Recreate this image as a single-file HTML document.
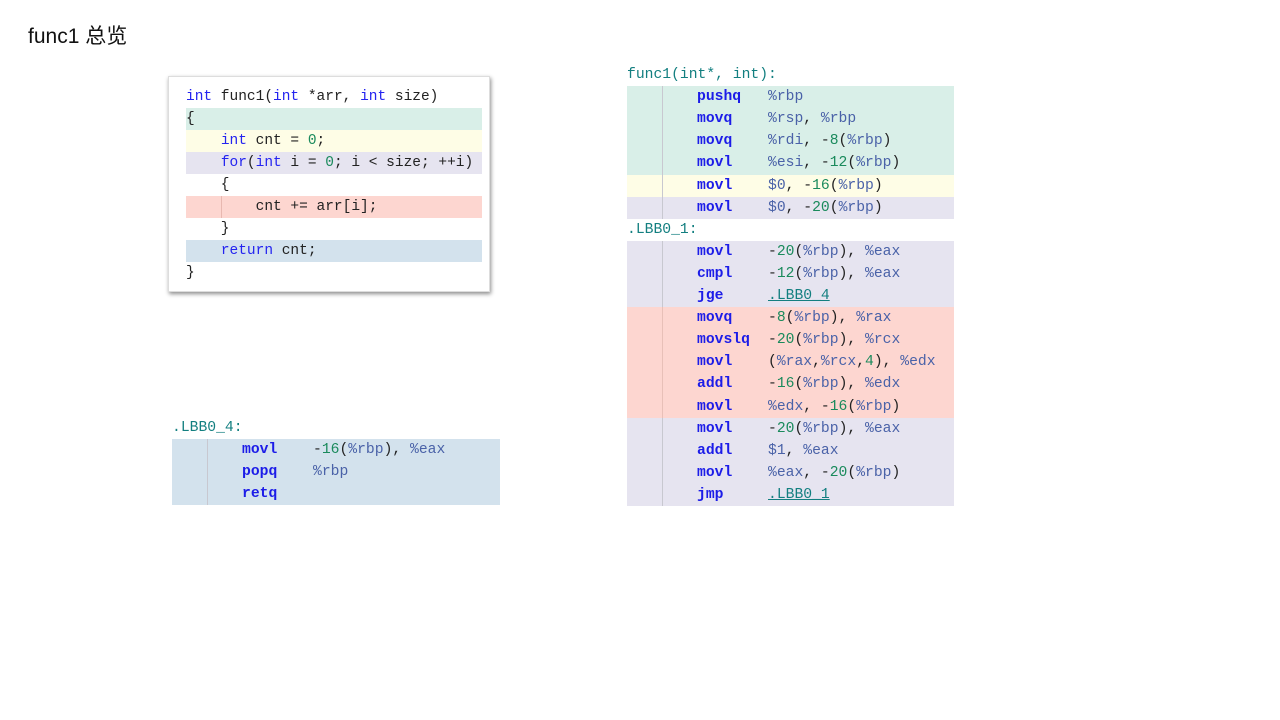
<!DOCTYPE html>
<html><head><meta charset="utf-8"><style>
body{margin:0;width:1280px;height:720px;background:#fff;position:relative;overflow:hidden;font-family:"Liberation Sans","Noto Sans CJK SC",sans-serif}
.t{position:absolute;left:28px;top:20px;font-size:21px;color:#111}
.blk{position:absolute;font-family:"Liberation Mono",monospace;font-size:14.7px;color:#222}
.row{position:absolute;left:0;height:22.6px;line-height:23px;white-space:pre}
.row .g{position:absolute;top:0;bottom:0;width:1px;background:#c8c8d0}
.row .m{position:absolute}
.row .o{position:absolute}
.k{color:#1c1ce8;font-weight:bold}.r{color:#4a62a8}.n{color:#1a8a5c}.l{color:#137f80;text-decoration:underline}.lab{color:#137f80}
.G{background:#d9efe8}.Y{background:#fefde6}.L{background:#e6e4f0}.R{background:#fdd6d0}.B{background:#d3e2ed}
.code{position:absolute;left:168px;top:76px;width:322px;height:216px;background:#fff;box-shadow:1px 2px 4px rgba(0,0,0,.45);border:1px solid #ddd;box-sizing:border-box}
.cl{position:absolute;left:17px;width:296px;height:22px;line-height:22px;font-family:"Liberation Mono",monospace;font-size:14.5px;white-space:pre;color:#222}
.cl .k{font-weight:normal;color:#2424f0}
</style></head><body>
<div class="t">func1 总览</div>

<div class="code">
<div class="cl" style="top:9px"><span class="k">int</span> func1(<span class="k">int</span> *arr, <span class="k">int</span> size)</div>
<div class="cl G" style="top:31px">{</div>
<div class="cl Y" style="top:53px">    <span class="k">int</span> cnt = <span class="n">0</span>;</div>
<div class="cl L" style="top:75px">    <span class="k">for</span>(<span class="k">int</span> i = <span class="n">0</span>; i &lt; size; ++i)</div>
<div class="cl" style="top:97px">    {</div>
<div class="cl R" style="top:119px"><span style="position:absolute;left:35px;top:0;bottom:0;width:1px;background:#e8b8b0"></span>        cnt += arr[i];</div>
<div class="cl" style="top:141px">    }</div>
<div class="cl B" style="top:163px">    <span class="k">return</span> cnt;</div>
<div class="cl" style="top:185px">}</div>
</div>

<div class="blk" style="left:627px;top:64px;width:327px;height:460px">
<div class="row" style="top:0;width:327px"><span class="lab">func1(int*, int):</span></div>
<div class="row G" style="top:22.1px;width:327px"><i class="g" style="left:35px"></i><span class="m k" style="left:70px">pushq</span><span class="o r" style="left:141px">%rbp</span></div>
<div class="row G" style="top:44.2px;width:327px"><i class="g" style="left:35px"></i><span class="m k" style="left:70px">movq</span><span class="o" style="left:141px"><span class="r">%rsp</span>, <span class="r">%rbp</span></span></div>
<div class="row G" style="top:66.3px;width:327px"><i class="g" style="left:35px"></i><span class="m k" style="left:70px">movq</span><span class="o" style="left:141px"><span class="r">%rdi</span>, -<span class="n">8</span>(<span class="r">%rbp</span>)</span></div>
<div class="row G" style="top:88.4px;width:327px"><i class="g" style="left:35px"></i><span class="m k" style="left:70px">movl</span><span class="o" style="left:141px"><span class="r">%esi</span>, -<span class="n">12</span>(<span class="r">%rbp</span>)</span></div>
<div class="row Y" style="top:110.5px;width:327px"><i class="g" style="left:35px"></i><span class="m k" style="left:70px">movl</span><span class="o" style="left:141px"><span class="r">$0</span>, -<span class="n">16</span>(<span class="r">%rbp</span>)</span></div>
<div class="row L" style="top:132.6px;width:327px;height:22.1px"><i class="g" style="left:35px"></i><span class="m k" style="left:70px">movl</span><span class="o" style="left:141px"><span class="r">$0</span>, -<span class="n">20</span>(<span class="r">%rbp</span>)</span></div>
<div class="row" style="top:154.7px;width:327px"><span class="lab">.LBB0_1:</span></div>
<div class="row L" style="top:176.8px;width:327px"><i class="g" style="left:35px"></i><span class="m k" style="left:70px">movl</span><span class="o" style="left:141px">-<span class="n">20</span>(<span class="r">%rbp</span>), <span class="r">%eax</span></span></div>
<div class="row L" style="top:198.9px;width:327px"><i class="g" style="left:35px"></i><span class="m k" style="left:70px">cmpl</span><span class="o" style="left:141px">-<span class="n">12</span>(<span class="r">%rbp</span>), <span class="r">%eax</span></span></div>
<div class="row L" style="top:221px;width:327px"><i class="g" style="left:35px"></i><span class="m k" style="left:70px">jge</span><span class="o l" style="left:141px">.LBB0_4</span></div>
<div class="row R" style="top:243.1px;width:327px"><i class="g" style="left:35px;background:#e8c0b8"></i><span class="m k" style="left:70px">movq</span><span class="o" style="left:141px">-<span class="n">8</span>(<span class="r">%rbp</span>), <span class="r">%rax</span></span></div>
<div class="row R" style="top:265.2px;width:327px"><i class="g" style="left:35px;background:#e8c0b8"></i><span class="m k" style="left:70px">movslq</span><span class="o" style="left:141px">-<span class="n">20</span>(<span class="r">%rbp</span>), <span class="r">%rcx</span></span></div>
<div class="row R" style="top:287.3px;width:327px"><i class="g" style="left:35px;background:#e8c0b8"></i><span class="m k" style="left:70px">movl</span><span class="o" style="left:141px">(<span class="r">%rax</span>,<span class="r">%rcx</span>,<span class="n">4</span>), <span class="r">%edx</span></span></div>
<div class="row R" style="top:309.4px;width:327px"><i class="g" style="left:35px;background:#e8c0b8"></i><span class="m k" style="left:70px">addl</span><span class="o" style="left:141px">-<span class="n">16</span>(<span class="r">%rbp</span>), <span class="r">%edx</span></span></div>
<div class="row R" style="top:331.5px;width:327px"><i class="g" style="left:35px;background:#e8c0b8"></i><span class="m k" style="left:70px">movl</span><span class="o" style="left:141px"><span class="r">%edx</span>, -<span class="n">16</span>(<span class="r">%rbp</span>)</span></div>
<div class="row L" style="top:353.6px;width:327px"><i class="g" style="left:35px"></i><span class="m k" style="left:70px">movl</span><span class="o" style="left:141px">-<span class="n">20</span>(<span class="r">%rbp</span>), <span class="r">%eax</span></span></div>
<div class="row L" style="top:375.7px;width:327px"><i class="g" style="left:35px"></i><span class="m k" style="left:70px">addl</span><span class="o" style="left:141px"><span class="r">$1</span>, <span class="r">%eax</span></span></div>
<div class="row L" style="top:397.8px;width:327px"><i class="g" style="left:35px"></i><span class="m k" style="left:70px">movl</span><span class="o" style="left:141px"><span class="r">%eax</span>, -<span class="n">20</span>(<span class="r">%rbp</span>)</span></div>
<div class="row L" style="top:419.9px;width:327px;height:22.1px"><i class="g" style="left:35px"></i><span class="m k" style="left:70px">jmp</span><span class="o l" style="left:141px">.LBB0_1</span></div>
</div>

<div class="blk" style="left:172px;top:417px;width:328px;height:100px">
<div class="row" style="top:0;width:328px"><span class="lab">.LBB0_4:</span></div>
<div class="row B" style="top:22.1px;width:328px"><i class="g" style="left:35px"></i><span class="m k" style="left:70px">movl</span><span class="o" style="left:141px">-<span class="n">16</span>(<span class="r">%rbp</span>), <span class="r">%eax</span></span></div>
<div class="row B" style="top:44.2px;width:328px"><i class="g" style="left:35px"></i><span class="m k" style="left:70px">popq</span><span class="o r" style="left:141px">%rbp</span></div>
<div class="row B" style="top:66.3px;width:328px;height:22.1px"><i class="g" style="left:35px"></i><span class="m k" style="left:70px">retq</span></div>
</div>
</body></html>
